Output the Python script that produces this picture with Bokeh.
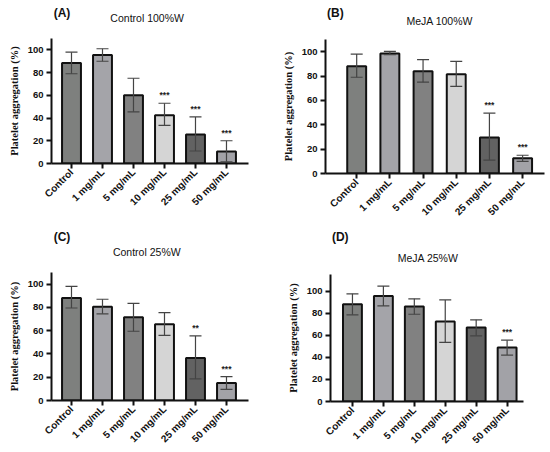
import math
from bokeh.plotting import figure
from bokeh.layouts import column, row
from bokeh.models import ColumnDataSource, Range1d, FixedTicker, Whisker, TeeHead
from bokeh.embed import file_html
from bokeh.resources import INLINE
from bokeh.core.properties import value

categories = ["Control", "1 mg/mL", "5 mg/mL", "10 mg/mL", "25 mg/mL", "50 mg/mL"]
bar_colors = ["#7e807e", "#a4a4a9", "#818181", "#d5d5d5", "#626262", "#a2a2a7"]
y_ticks = [0, 20, 40, 60, 80, 100]

a_mean = [88.5, 95.5, 60, 42.5, 25.5, 10.5]
a_low = [79, 90, 45.5, 33.5, 11, 1.5]
a_high = [98, 101, 75, 53, 41, 20]
a_sig = ["", "", "", "***", "***", "***"]

b_mean = [88, 98.5, 84, 81.5, 29.5, 12.5]
b_low = [79, 97.5, 75, 71.5, 11, 10]
b_high = [98, 100.3, 93.5, 92, 49.5, 15]
b_sig = ["", "", "", "", "***", "***"]

c_mean = [88, 80.5, 71.5, 65.5, 36.5, 15]
c_low = [79.5, 74.5, 59.5, 56, 18.5, 9.5]
c_high = [98, 87, 83.5, 75.5, 55.5, 20.5]
c_sig = ["", "", "", "", "**", "***"]

d_mean = [88, 95.5, 86, 72.5, 67, 49]
d_low = [78.5, 86.5, 79, 53.5, 59.5, 42]
d_high = [97.5, 104.5, 93, 92, 74, 55.5]
d_sig = ["", "", "", "", "", "***"]

CELL_W, CELL_H = 275, 226
INK = "#111111"


def make_header(title, tag, g):
    h = g["top"]
    p = figure(width=CELL_W, height=h, output_backend="svg", toolbar_location=None,
               x_range=Range1d(0, CELL_W), y_range=Range1d(h, 0),
               min_border_left=0, min_border_right=0, min_border_top=0, min_border_bottom=0)
    p.axis.visible = False
    p.grid.visible = False
    p.outline_line_color = None
    p.text(x=[g["tag_x"]], y=[g["tag_y"]], text=[tag], text_align="left", text_baseline="middle",
           text_font=value("Liberation Sans"), text_font_size="12px", text_font_style="bold",
           text_color=INK)
    p.text(x=[g["title_x"]], y=[g["title_y"]], text=[title], text_align="center",
           text_baseline="middle", text_font=value("Liberation Sans"), text_font_size="10.5px",
           text_color=INK)
    return p


def make_chart(mean, low, high, sig, g):
    p = figure(width=CELL_W, height=CELL_H - g["top"], output_backend="svg",
               toolbar_location=None,
               x_range=Range1d(g["x0"], g["x1"]), y_range=Range1d(0, g["ymax"]),
               min_border_left=g["left"], min_border_right=g["right"],
               min_border_top=0, min_border_bottom=g["bottom"])
    xs = list(range(len(categories)))
    src = ColumnDataSource(dict(x=xs, top=mean, lo=low, hi=high, color=bar_colors,
                                sig=sig, sy=[h + 7 for h in high]))
    p.vbar(x="x", top="top", bottom=0, width=g["bw"], source=src, fill_color="color",
           line_color=INK, line_width=2)
    p.add_layout(Whisker(base="x", lower="lo", upper="hi", source=src,
                         line_color="#444444", line_width=1.2, level="annotation",
                         upper_head=TeeHead(size=12, line_color="#444444", line_width=1.2),
                         lower_head=TeeHead(size=12, line_color="#444444", line_width=1.2)))
    p.text(x="x", y="sy", text="sig", source=src, text_align="center", text_baseline="middle",
           text_font=value("Liberation Sans"), text_font_size="8.5px", text_font_style="bold",
           text_color="#222222")

    p.grid.visible = False
    p.outline_line_color = None

    for ax in (p.xaxis[0], p.yaxis[0]):
        ax.axis_line_width = 2
        ax.axis_line_color = INK
        ax.major_tick_line_width = 2
        ax.major_tick_line_color = INK
        ax.major_tick_out = 5
        ax.major_tick_in = 0
        ax.minor_tick_line_color = None
        ax.major_label_text_font = "Liberation Sans"
        ax.major_label_text_font_style = "bold"
        ax.major_label_text_color = INK
        ax.major_label_standoff = 2

    p.xaxis.ticker = FixedTicker(ticks=xs)
    p.xaxis.major_label_overrides = {i: c for i, c in zip(xs, categories)}
    p.xaxis.major_label_orientation = math.pi / 4
    p.xaxis.major_label_text_font_size = "10px"

    p.yaxis.ticker = FixedTicker(ticks=y_ticks)
    p.yaxis.major_label_text_font_size = "9.5px"
    p.yaxis.major_label_standoff = 3
    p.yaxis.axis_label = "Platelet aggregation (%)"
    p.yaxis.axis_label_text_font = "Liberation Serif"
    p.yaxis.axis_label_text_font_style = "bold"
    p.yaxis.axis_label_text_font_size = "10.5px"
    p.yaxis.axis_label_text_color = INK
    p.yaxis.axis_label_standoff = 5
    return p


def make_panel(mean, low, high, sig, title, tag, g):
    return column(make_header(title, tag, g), make_chart(mean, low, high, sig, g), spacing=0)


geo_a = dict(top=38, left=51, right=27, bottom=63, x0=-0.645, x1=5.71, ymax=110, bw=0.61,
             tag_x=3, tag_y=12.5, title_x=133.5, title_y=17)
geo_b = dict(top=39, left=50, right=6, bottom=53, x0=-0.94, x1=5.66, ymax=110, bw=0.57,
             tag_x=2, tag_y=12.5, title_x=143.5, title_y=20.5)
geo_c = dict(top=46, left=51, right=27, bottom=52, x0=-0.645, x1=5.71, ymax=110, bw=0.61,
             tag_x=3, tag_y=10.5, title_x=133, title_y=25)
geo_d = dict(top=48, left=55, right=27, bottom=51, x0=-0.71, x1=5.53, ymax=115, bw=0.61,
             tag_x=2, tag_y=10.5, title_x=139, title_y=31)

pa = make_panel(a_mean, a_low, a_high, a_sig, "Control 100%W", "(A)", geo_a)
pb = make_panel(b_mean, b_low, b_high, b_sig, "MeJA 100%W", "(B)", geo_b)
pc = make_panel(c_mean, c_low, c_high, c_sig, "Control 25%W", "(C)", geo_c)
pd = make_panel(d_mean, d_low, d_high, d_sig, "MeJA 25%W", "(D)", geo_d)

layout = column(row(pa, pb, spacing=0), row(pc, pd, spacing=0), spacing=0)
open("out.html", "w").write(file_html(layout, INLINE))
